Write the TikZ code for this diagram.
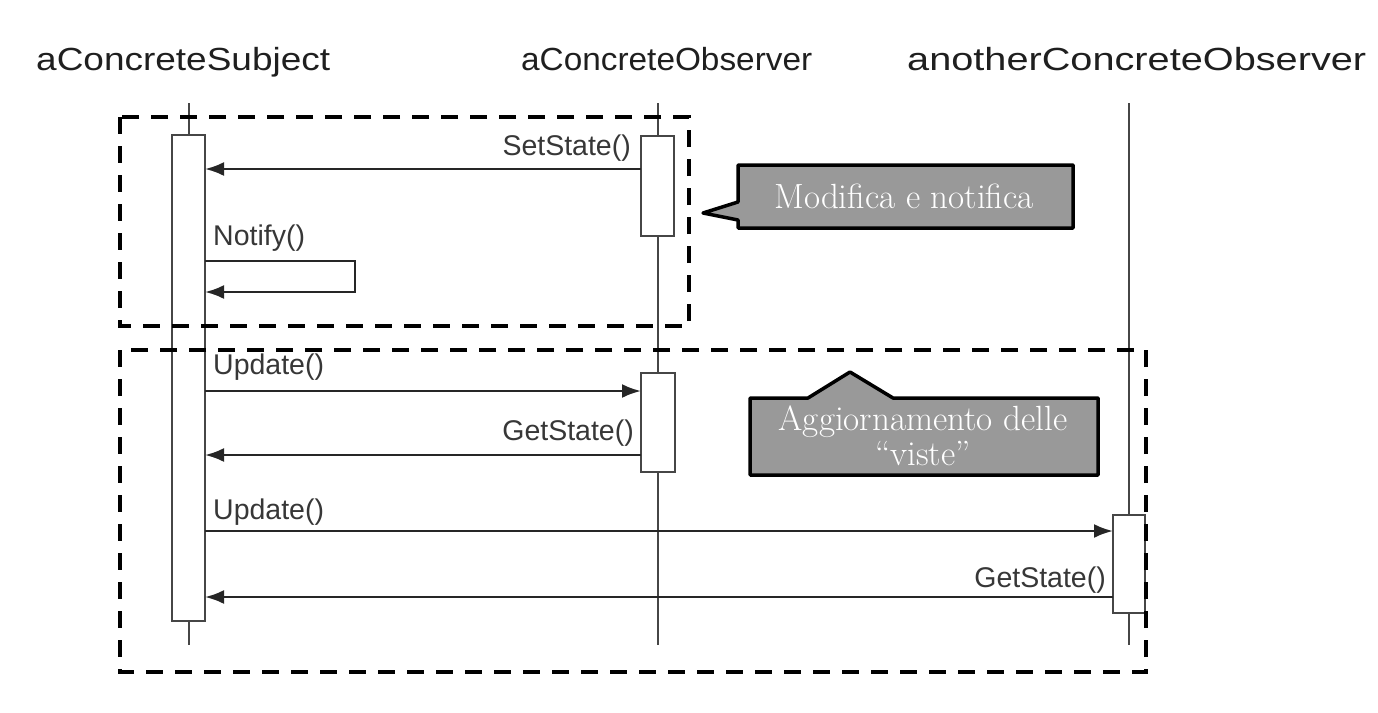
\documentclass[tikz,border=0pt]{standalone}
\usepackage{fontspec}
\usepackage{graphicx}
\usetikzlibrary{arrows.meta}
\newfontfamily\arialfont{Liberation Sans}
\definecolor{calloutgray}{RGB}{153,153,153}
\definecolor{umlgray}{RGB}{70,70,70}
\definecolor{txtgray}{RGB}{55,55,55}
\begin{document}
\begin{tikzpicture}[x=1pt,y=-1pt,
  lifeline/.style={draw=umlgray, line width=2.4},
  actbox/.style={rectangle, draw=umlgray, fill=white, line width=2.4, inner sep=0pt, outer sep=0pt},
  msg/.style={draw=black!85, line width=2.5, -{Latex[length=19pt,width=14pt]}},
  title/.style={inner sep=0pt, text=black!88, font=\arialfont\fontsize{32}{38}\selectfont},
  lbl/.style={inner sep=0pt, text=txtgray, font=\arialfont\fontsize{28.5}{34}\selectfont},
  dashbox/.style={draw=black, line width=4, dash pattern=on 17pt off 12pt},
  callout/.style={draw=black, fill=calloutgray, line width=3.5, line join=round},
  callouttext/.style={inner sep=0pt, text=white, font=\fontsize{35}{38}\selectfont}
]
\useasboundingbox (0,0) rectangle (1378,712);

% titles
\node[title, anchor=base west] (tsubj) at (36,70) {\resizebox{294pt}{\height}{aConcreteSubject}};
\node[title, anchor=base west] (tobs) at (521,70) {\resizebox{291pt}{\height}{aConcreteObserver}};
\node[title, anchor=base west] (tanother) at (907,70) {\resizebox{459pt}{\height}{anotherConcreteObserver}};

% lifelines
\coordinate (subjTop) at (189,103);
\coordinate (subjBot) at (189,645);
\coordinate (obsTop) at (658,103);
\coordinate (obsBot) at (658,645);
\coordinate (anoTop) at (1129,103);
\coordinate (anoBot) at (1129,645);
\draw[lifeline] (subjTop) -- (subjBot);
\draw[lifeline] (obsTop) -- (obsBot);
\draw[lifeline] (anoTop) -- (anoBot);

% activation boxes
\node[actbox, minimum width=33, minimum height=486] (sbox) at (188.5,378) {};
\node[actbox, minimum width=33, minimum height=100] (obox1) at (657.5,186) {};
\node[actbox, minimum width=34, minimum height=99] (obox2) at (658,422.5) {};
\node[actbox, minimum width=32, minimum height=98] (abox) at (1129,564) {};

% messages
\draw[msg] (obox1.west |- 0,169) -- (sbox.east |- 0,169);
\node[lbl, anchor=base east] (lset) at (631,155) {SetState()};

\coordinate (selfR) at (355,261);
\draw[msg] (sbox.east |- 0,261) -- (selfR) |- (sbox.east |- 0,292);
\node[lbl, anchor=base west] (lnotify) at (213,245) {Notify()};

\draw[msg] (sbox.east |- 0,391) -- (obox2.west |- 0,391);
\node[lbl, anchor=base west] (lupd1) at (213,374) {Update()};

\draw[msg] (obox2.west |- 0,455) -- (sbox.east |- 0,455);
\node[lbl, anchor=base east] (lget1) at (634,440) {GetState()};

\draw[msg] (sbox.east |- 0,531) -- (abox.west |- 0,531);
\node[lbl, anchor=base west] (lupd2) at (213,519) {Update()};

\draw[msg] (abox.west |- 0,597) -- (sbox.east |- 0,597);
\node[lbl, anchor=base east] (lget2) at (1106,587) {GetState()};

% dashed groups
\draw[dashbox] (120,117) rectangle (689,326);
\draw[dashbox] (120,350) rectangle (1146,672);

% callouts
\draw[callout] (738,165) -- (1073,165) -- (1073,228) -- (738,228) -- (738,220) -- (703,213) -- (738,202) -- cycle;
\node[callouttext, anchor=base] (c1text) at (904,208) {Modifica e notifica};

\draw[callout] (750,398) -- (808,398) -- (850,372) -- (893,398) -- (1098,398) -- (1098,475) -- (750,475) -- cycle;
\node[callouttext, anchor=base] (c2line1) at (923,430) {Aggiornamento delle};
\node[callouttext, anchor=base] (c2line2) at (923,465) {“viste”};
\end{tikzpicture}
\end{document}
